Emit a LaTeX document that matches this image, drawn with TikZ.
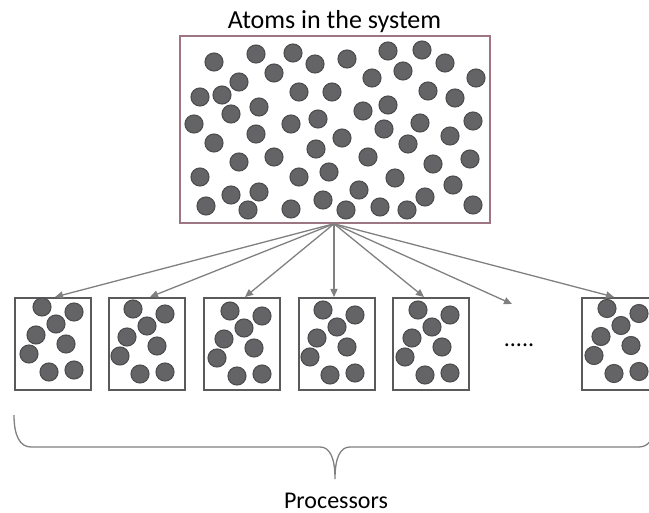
\documentclass[tikz,border=0pt]{standalone}
\usepackage{fontspec}
\setmainfont{Carlito}
\usetikzlibrary{arrows.meta,calc}

\definecolor{atomfill}{RGB}{100,100,102}
\definecolor{atomline}{RGB}{78,78,80}
\definecolor{sysframe}{RGB}{158,118,130}
\definecolor{procframe}{RGB}{90,90,90}
\definecolor{linkgray}{RGB}{128,128,128}

\tikzset{
  atom/.style={fill=atomfill, draw=atomline, line width=1.1pt},
  sysbox/.style={draw=sysframe, line width=1.5pt, minimum width=310pt,
    minimum height=187pt, inner sep=0pt},
  procbox/.style={draw=procframe, line width=1.8pt, minimum width=76pt,
    minimum height=92pt, inner sep=0pt, anchor=north west},
  label/.style={font=\fontsize{24}{28}\selectfont, anchor=base, inner sep=0pt},
  link/.style={draw=linkgray, line width=1.3pt,
    -{Triangle[length=8pt,width=7pt]}},
  bracestyle/.style={draw=linkgray, line width=1.3pt},
}

\begin{document}
\begin{tikzpicture}[x=1pt,y=-1pt]
  \clip (0,0) rectangle (649,513);

  % title and the whole system
  \node[label, font=\fontsize{26}{30}\selectfont] (title) at (334.5,29)
    {Atoms in the system};
  \node[sysbox] (sys) at (335,129.5) {};
  \foreach \p in {(214,62),(256,54),(293,53),(274,73),(315,64),(347,59),
      (388,51),(422,50),(445,63),(403,71),(372,78),(476,78),(239,82),
      (200,97),(222,95),(299,92),(332,92),(428,91),(455,98),(388,105),
      (363,111),(259,107),(231,114),(194,124),(291,124),(318,119),
      (384,129),(420,123),(473,121),(256,134),(214,143),(342,138),
      (316,149),(408,144),(450,136),(274,157),(239,162),(368,157),
      (433,164),(470,159),(200,177),(299,177),(329,172),(395,178),
      (453,185),(231,195),(259,192),(359,190),(323,200),(425,197),
      (206,206),(248,210),(291,209),(346,210),(380,207),(407,210),
      (473,205)}
    \path[atom] \p circle[radius=9];

  % processors, each holding a share of the atoms
  \foreach \i/\x/\dx/\dy in {1/14/2/-3, 2/108/-1/-1, 3/203/1/1,
                             4/298/-1/0, 5/392/0/0, 6/581/0/-1.5} {
    \node[procbox] (p\i) at (\x,297) {};
    \foreach \cx/\cy in {26/13,58/18,40/30,20/41,50/50,13/60,33/78,58/76}
      \path[atom] ($(p\i.north west)+(\cx+\dx,\cy+\dy)$) circle[radius=9];
  }
  \node[label] (dots) at (519,347) {.....};
  \coordinate (more) at (512,304);

  % distribution of atoms to the processors
  \coordinate (src) at ($(sys.south)+(-1,0)$);
  \draw[link] (src) -- ([xshift=41pt]p1.north west);
  \draw[link] (src) -- ([xshift=42pt]p2.north west);
  \draw[link] (src) -- ([xshift=42pt]p3.north west);
  \draw[link] (src) -- ([xshift=36pt]p4.north west);
  \draw[link] (src) -- ([xshift=32pt]p5.north west);
  \draw[link] (src) -- (more);
  \draw[link] (src) -- ([xshift=33pt]p6.north west);

  % brace gathering all processors
  \draw[bracestyle] (14,415) .. controls (14,436) and (20,447) .. (31,447)
    -- (320,447) .. controls (330,447) and (335,458) .. (335,479)
    .. controls (335,458) and (340,447) .. (350,447)
    -- (639,447) .. controls (650,447) and (656,436) .. (656,415);
  \node[label] (procs) at (336,508) {Processors};
\end{tikzpicture}
\end{document}
